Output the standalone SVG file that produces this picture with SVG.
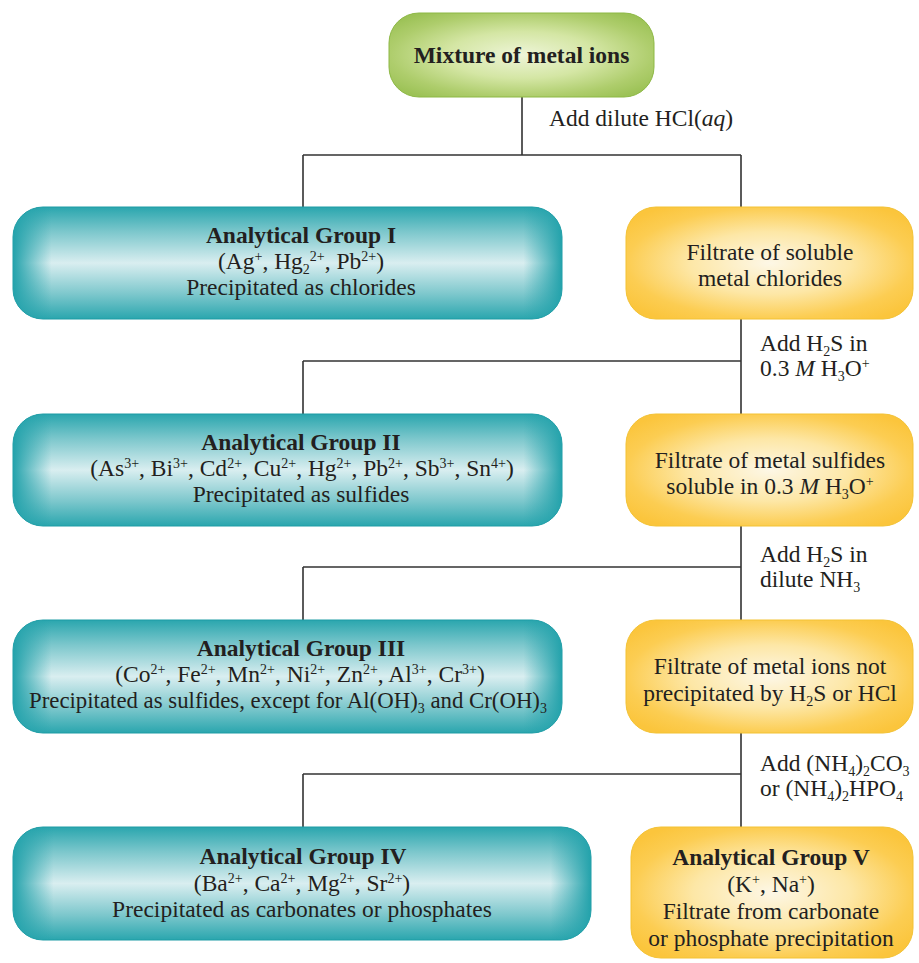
<svg xmlns="http://www.w3.org/2000/svg" width="919" height="963" viewBox="0 0 919 963">
<defs>
<linearGradient id="tealV" x1="0" y1="0" x2="0" y2="1">
<stop offset="0" stop-color="#2aa6ae"/>
<stop offset="0.22" stop-color="#7cc7cc"/>
<stop offset="0.5" stop-color="#d9eef0"/>
<stop offset="0.78" stop-color="#7cc7cc"/>
<stop offset="1" stop-color="#2aa6ae"/>
</linearGradient>
<linearGradient id="tealH" x1="0" y1="0" x2="1" y2="0">
<stop offset="0" stop-color="#23a2ab" stop-opacity="1"/>
<stop offset="0.07" stop-color="#23a2ab" stop-opacity="0"/>
<stop offset="0.93" stop-color="#23a2ab" stop-opacity="0"/>
<stop offset="1" stop-color="#23a2ab" stop-opacity="1"/>
</linearGradient>
<radialGradient id="yel" cx="0.5" cy="0.5" r="0.62">
<stop offset="0" stop-color="#fdf7e6"/>
<stop offset="0.45" stop-color="#fde7a6"/>
<stop offset="0.8" stop-color="#fccd52"/>
<stop offset="1" stop-color="#fbc53c"/>
</radialGradient>
<radialGradient id="grn" cx="0.5" cy="0.5" r="0.62">
<stop offset="0" stop-color="#eef5d8"/>
<stop offset="0.45" stop-color="#d4e6a4"/>
<stop offset="0.8" stop-color="#aecd6c"/>
<stop offset="1" stop-color="#9cc256"/>
</radialGradient>
</defs>
<style>
text{font-family:"Liberation Serif","Times New Roman",serif;font-size:23.5px;fill:#231f20}
.c{text-anchor:middle}
.b{font-weight:bold}
.s{font-size:14px}
.i{font-style:italic}
.teal{stroke:#1e9ca5;stroke-width:1}
.tealo{fill:url(#tealH);stroke:none}
.yb{fill:url(#yel);stroke:#f3c235;stroke-width:1}
.conn{fill:none;stroke:#333;stroke-width:1.6}
</style>
<rect width="919" height="963" fill="#fff"/>
<g id="connectors">
<path class="conn" d="M522 97 V155 M303 155 H741 M303 155 V207 M741 155 V207 M741 319 V414 M303 361 H741 M303 361 V414 M741 526 V620 M303 567 H741 M303 567 V620 M741 733 V827 M303 774 H741 M303 774 V827"/>
<text x="549" y="126">Add dilute HCl(<tspan class="i">aq</tspan>)</text>
<text x="760" y="351">Add H<tspan class="s" dy="5">2</tspan><tspan dy="-5">S in</tspan></text>
<text x="760" y="376">0.3 <tspan class="i">M</tspan> H<tspan class="s" dy="5">3</tspan><tspan dy="-5">O</tspan><tspan class="s" dy="-8">+</tspan></text>
<text x="760" y="562">Add H<tspan class="s" dy="5">2</tspan><tspan dy="-5">S in</tspan></text>
<text x="760" y="587">dilute NH<tspan class="s" dy="5">3</tspan></text>
<text x="760" y="771">Add (NH<tspan class="s" dy="5">4</tspan><tspan dy="-5">)</tspan><tspan class="s" dy="5">2</tspan><tspan dy="-5">CO</tspan><tspan class="s" dy="5">3</tspan></text>
<text x="760" y="796">or (NH<tspan class="s" dy="5">4</tspan><tspan dy="-5">)</tspan><tspan class="s" dy="5">2</tspan><tspan dy="-5">HPO</tspan><tspan class="s" dy="5">4</tspan></text>
</g>
<g id="mixture">
<rect x="389" y="13" width="265" height="84" rx="30" fill="url(#grn)" stroke="#8db845" stroke-width="1"/>
<text class="c b" x="521.5" y="63">Mixture of metal ions</text>
</g>
<g id="group1">
<rect x="13" y="207" width="549" height="112" rx="30" fill="url(#tealV)" class="teal"/>
<rect x="13" y="207" width="549" height="112" rx="30" class="tealo"/>
<text class="c b" x="301" y="243">Analytical Group I</text>
<text class="c" x="301" y="269">(Ag<tspan class="s" dy="-8">+</tspan><tspan dy="8">, Hg</tspan><tspan class="s" dy="5">2</tspan><tspan class="s" dy="-13">2+</tspan><tspan dy="8">, Pb</tspan><tspan class="s" dy="-8">2+</tspan><tspan dy="8">)</tspan></text>
<text class="c" x="301" y="295">Precipitated as chlorides</text>
</g>
<g id="filtrate1">
<rect x="626" y="207" width="287" height="112" rx="30" class="yb"/>
<text class="c" x="770" y="260">Filtrate of soluble</text>
<text class="c" x="770" y="286">metal chlorides</text>
</g>
<g id="group2">
<rect x="13" y="414" width="549" height="112" rx="30" fill="url(#tealV)" class="teal"/>
<rect x="13" y="414" width="549" height="112" rx="30" class="tealo"/>
<text class="c b" x="301" y="450">Analytical Group II</text>
<text class="c" x="302" y="476">(As<tspan class="s" dy="-8">3+</tspan><tspan dy="8">, Bi</tspan><tspan class="s" dy="-8">3+</tspan><tspan dy="8">, Cd</tspan><tspan class="s" dy="-8">2+</tspan><tspan dy="8">, Cu</tspan><tspan class="s" dy="-8">2+</tspan><tspan dy="8">, Hg</tspan><tspan class="s" dy="-8">2+</tspan><tspan dy="8">, Pb</tspan><tspan class="s" dy="-8">2+</tspan><tspan dy="8">, Sb</tspan><tspan class="s" dy="-8">3+</tspan><tspan dy="8">, Sn</tspan><tspan class="s" dy="-8">4+</tspan><tspan dy="8">)</tspan></text>
<text class="c" x="301" y="502">Precipitated as sulfides</text>
</g>
<g id="filtrate2">
<rect x="626" y="414" width="287" height="112" rx="30" class="yb"/>
<text class="c" x="770" y="468">Filtrate of metal sulfides</text>
<text class="c" x="770" y="494">soluble in 0.3 <tspan class="i">M</tspan> H<tspan class="s" dy="5">3</tspan><tspan dy="-5">O</tspan><tspan class="s" dy="-8">+</tspan></text>
</g>
<g id="group3">
<rect x="13" y="620" width="549" height="113" rx="30" fill="url(#tealV)" class="teal"/>
<rect x="13" y="620" width="549" height="113" rx="30" class="tealo"/>
<text class="c b" x="301" y="656">Analytical Group III</text>
<text class="c" x="300" y="682">(Co<tspan class="s" dy="-8">2+</tspan><tspan dy="8">, Fe</tspan><tspan class="s" dy="-8">2+</tspan><tspan dy="8">, Mn</tspan><tspan class="s" dy="-8">2+</tspan><tspan dy="8">, Ni</tspan><tspan class="s" dy="-8">2+</tspan><tspan dy="8">, Zn</tspan><tspan class="s" dy="-8">2+</tspan><tspan dy="8">, Al</tspan><tspan class="s" dy="-8">3+</tspan><tspan dy="8">, Cr</tspan><tspan class="s" dy="-8">3+</tspan><tspan dy="8">)</tspan></text>
<text class="c" x="288" y="708" style="font-size:22.8px">Precipitated as sulfides, except for Al(OH)<tspan class="s" dy="5">3</tspan><tspan dy="-5"> and Cr(OH)</tspan><tspan class="s" dy="5">3</tspan></text>
</g>
<g id="filtrate3">
<rect x="626" y="620" width="287" height="113" rx="30" class="yb"/>
<text class="c" x="770" y="674">Filtrate of metal ions not</text>
<text class="c" x="770" y="701">precipitated by H<tspan class="s" dy="5">2</tspan><tspan dy="-5">S or HCl</tspan></text>
</g>
<g id="group4">
<rect x="13" y="827" width="578" height="113" rx="30" fill="url(#tealV)" class="teal"/>
<rect x="13" y="827" width="578" height="113" rx="30" class="tealo"/>
<text class="c b" x="303" y="864">Analytical Group IV</text>
<text class="c" x="302" y="891">(Ba<tspan class="s" dy="-8">2+</tspan><tspan dy="8">, Ca</tspan><tspan class="s" dy="-8">2+</tspan><tspan dy="8">, Mg</tspan><tspan class="s" dy="-8">2+</tspan><tspan dy="8">, Sr</tspan><tspan class="s" dy="-8">2+</tspan><tspan dy="8">)</tspan></text>
<text class="c" x="302" y="917">Precipitated as carbonates or phosphates</text>
</g>
<g id="group5">
<rect x="631" y="827" width="282" height="131" rx="30" class="yb"/>
<text class="c b" x="771" y="865">Analytical Group V</text>
<text class="c" x="771" y="892">(K<tspan class="s" dy="-8">+</tspan><tspan dy="8">, Na</tspan><tspan class="s" dy="-8">+</tspan><tspan dy="8">)</tspan></text>
<text class="c" x="771" y="919">Filtrate from carbonate</text>
<text class="c" x="771" y="946">or phosphate precipitation</text>
</g>
</svg>
